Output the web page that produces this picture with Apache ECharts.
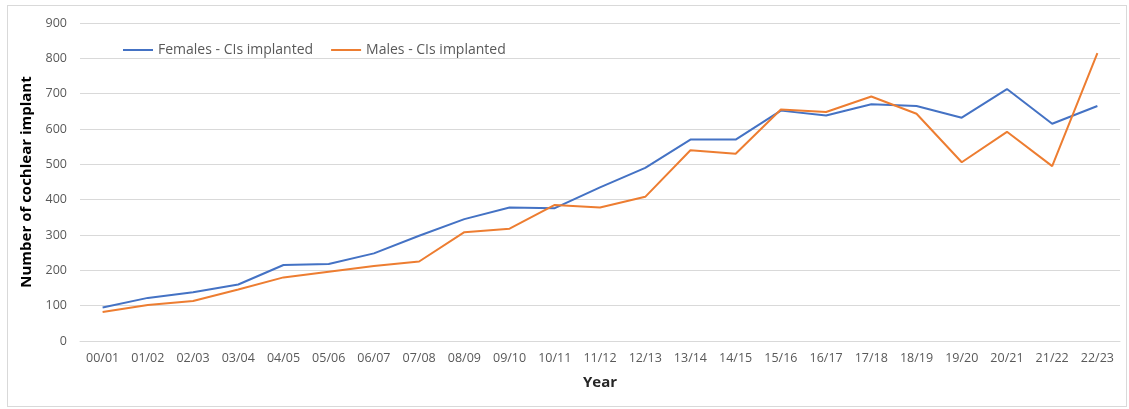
<!DOCTYPE html>
<html><head><meta charset="utf-8">
<script src="https://cdn.jsdelivr.net/npm/echarts@6/dist/echarts.min.js"></script>
<style>html,body{margin:0;padding:0;background:#fff}#c{width:1129px;height:409px;box-sizing:border-box;}
#frame{position:absolute;left:7px;top:5px;width:1120px;height:402px;border:1px solid #d9d9d9;box-sizing:border-box;pointer-events:none}</style>
</head><body><div id="c"></div><div id="frame"></div>
<script>
const years = ['00/01','01/02','02/03','03/04','04/05','05/06','06/07','07/08','08/09','09/10','10/11','11/12','12/13','13/14','14/15','15/16','16/17','17/18','18/19','19/20','20/21','21/22','22/23'];
const females = [95,122,138,160,215,218,248,298,345,378,376,435,490,570,570,652,638,670,665,632,713,615,665];
const males = [82,102,113,146,180,196,212,225,308,318,385,378,408,540,530,655,648,692,643,506,592,495,815];
const seriesNames = ['Females - CIs implanted','Males - CIs implanted'];
const chart = echarts.init(document.getElementById('c'));
const font = 'Open Sans, Liberation Sans, sans-serif';
chart.setOption({
  animation:false,
  grid:{left:80,right:9,top:23,bottom:68,containLabel:false},
  legend:{left:118,top:38,itemWidth:30,itemHeight:2,itemGap:18,icon:'rect',
    textStyle:{color:'#595959',fontSize:14,fontFamily:font},
    data:seriesNames},
  xAxis:{type:'category',data:years,boundaryGap:true,
    name:'Year',nameLocation:'middle',nameGap:34,
    nameTextStyle:{fontWeight:'bold',fontSize:15,color:'#262626',fontFamily:font},
    axisLine:{show:true,lineStyle:{color:'#d9d9d9',width:1}},axisTick:{show:false},
    axisLabel:{color:'#595959',fontSize:12.5,margin:11,fontFamily:font,interval:0}},
  yAxis:{type:'value',min:0,max:900,interval:100,
    name:'Number of cochlear implant',nameLocation:'middle',nameGap:36,
    nameTextStyle:{fontWeight:'bold',fontSize:15,color:'#000',fontFamily:font},
    axisLine:{show:false},axisTick:{show:false},
    axisLabel:{color:'#595959',fontSize:12.5,margin:13,fontFamily:font},
    splitLine:{lineStyle:{color:'#d9d9d9',width:1}}},
  series:[
    {name:seriesNames[0],type:'line',data:females,symbol:'none',lineStyle:{color:'#4472C4',width:2},itemStyle:{color:'#4472C4'}},
    {name:seriesNames[1],type:'line',data:males,symbol:'none',lineStyle:{color:'#ED7D31',width:2},itemStyle:{color:'#ED7D31'}}
  ]
});
</script></body></html>
